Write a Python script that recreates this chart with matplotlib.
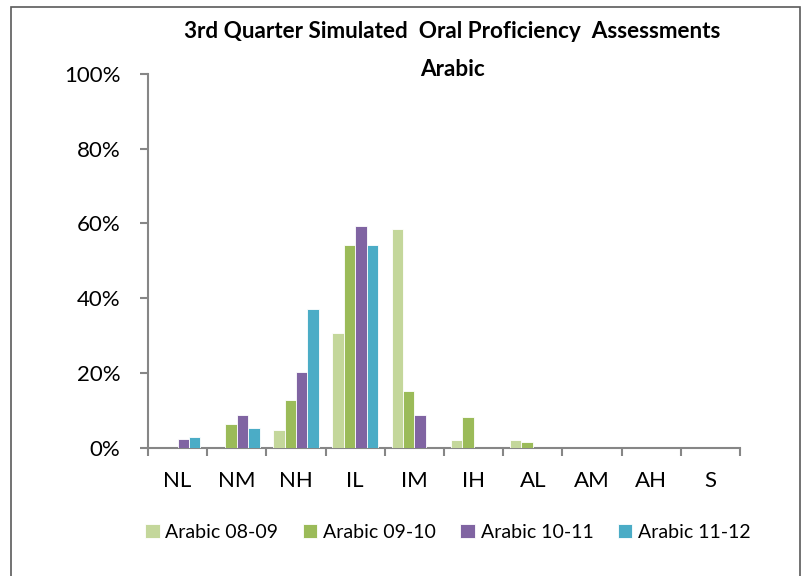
import matplotlib
matplotlib.use("Agg")
import matplotlib.pyplot as plt
import numpy as np
from matplotlib.patches import Rectangle

plt.rcParams['font.family'] = ['Lato', 'DejaVu Sans']

categories = ["NL", "NM", "NH", "IL", "IM", "IH", "AL", "AM", "AH", "S"]
series_names = ["Arabic 08-09", "Arabic 09-10", "Arabic 10-11", "Arabic 11-12"]
arabic_0809 = [0, 0, 4.7, 30.6, 58.5, 2.1, 2.1, 0, 0, 0]
arabic_0910 = [0, 6.2, 12.7, 54.2, 15.2, 8.1, 1.6, 0, 0, 0]
arabic_1011 = [2.2, 8.7, 20.2, 59.2, 8.7, 0, 0, 0, 0, 0]
arabic_1112 = [2.7, 5.2, 37.1, 54.2, 0, 0, 0, 0, 0, 0]
colors = ["#C4D79B", "#9BBB59", "#8064A2", "#4BACC6"]
yticks = [0, 20, 40, 60, 80, 100]
ytick_labels = ["0%", "20%", "40%", "60%", "80%", "100%"]

W, H = 801, 576
fig = plt.figure(figsize=(W/100, H/100), dpi=100)
ax = fig.add_axes([148/W, 1-447.5/H, (740-148)/W, (447.5-74)/H])

data = [arabic_0809, arabic_0910, arabic_1011, arabic_1112]
x = np.arange(len(categories))
w = 0.192
for i, (vals, c, name) in enumerate(zip(data, colors, series_names)):
    ax.bar(x + (i - 1.5) * w, vals, width=w, color=c, edgecolor="white",
           linewidth=0.6, label=name, zorder=3)

ax.set_xlim(-0.5, len(categories) - 0.5)
ax.set_ylim(0, 100)
ax.set_yticks(yticks)
ax.set_yticklabels(ytick_labels, fontsize=16)
ax.set_xticks(x)
ax.set_xticklabels(categories, fontsize=16)
ax.set_xticks(np.arange(-0.5, len(categories) + 0.5, 1), minor=True)
ax.tick_params(axis='x', which='major', length=0, pad=17)
ax.tick_params(axis='x', which='minor', length=6, width=1.5, color="#868686")
ax.tick_params(axis='y', length=6, width=1.5, color="#868686", pad=14)
for s in ["top", "right"]:
    ax.spines[s].set_visible(False)
for s in ["left", "bottom"]:
    ax.spines[s].set_color("#868686")
    ax.spines[s].set_linewidth(1.5)

fig.text(452.5/W, 1-32/H, "3rd Quarter Simulated  Oral Proficiency  Assessments",
         ha="center", va="center", fontsize=16.2, fontweight="bold")
fig.text(452.5/W, 1-69/H, "Arabic", ha="center", va="center",
         fontsize=16.2, fontweight="bold")

fig.legend(loc="center", bbox_to_anchor=(448/W, 1-532/H), ncol=4,
           frameon=False, fontsize=14, handlelength=0.75, handleheight=0.75,
           handletextpad=0.3, columnspacing=1.25)

fig.patches.append(Rectangle((11/W, -0.01), (799.5-11)/W, (H-7)/H + 0.01,
                             transform=fig.transFigure, fill=False,
                             edgecolor="#5a5a5a", linewidth=1.2))

fig.savefig("out.png", dpi=100)
